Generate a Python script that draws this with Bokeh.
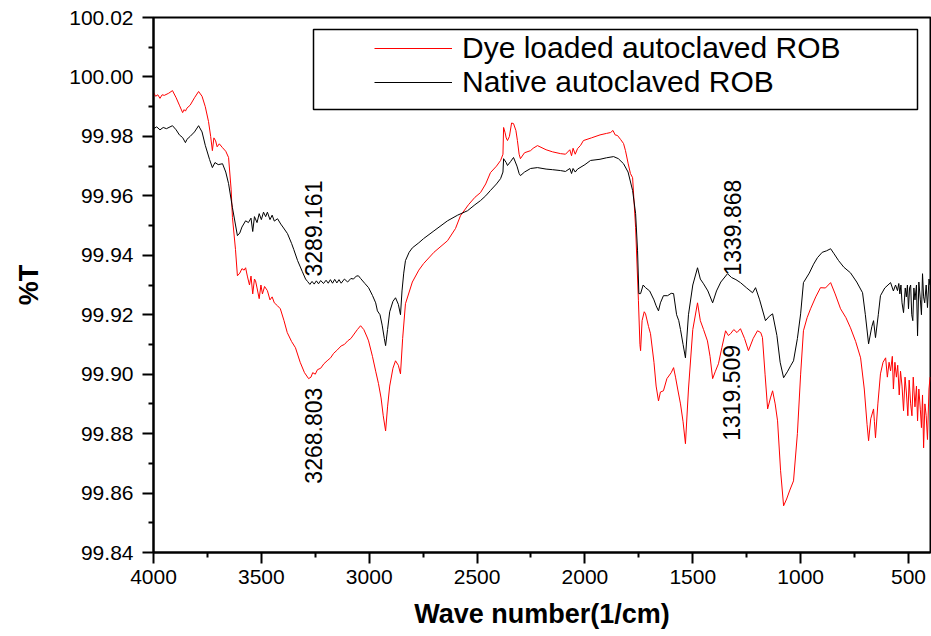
from math import pi
from bokeh.plotting import figure
from bokeh.models import (Range1d, FixedTicker, PrintfTickFormatter, Legend,
                          LegendItem, Label, BoxAnnotation, ColumnDataSource)
from bokeh.embed import file_html
from bokeh.resources import INLINE

# ---------------- data ----------------
dye_points = [
    (4000, 99.9948), (3990, 99.9935), (3980, 99.9940), (3970, 99.9928), (3960, 99.9940),
    (3950, 99.9938), (3930, 99.9945), (3912, 99.9954), (3895, 99.9930), (3880, 99.9905),
    (3865, 99.9880), (3858, 99.9890), (3852, 99.9885), (3845, 99.9895), (3830, 99.9905),
    (3810, 99.9930), (3791, 99.9951), (3775, 99.9935), (3760, 99.9900), (3745, 99.9850),
    (3735, 99.9800), (3727, 99.9752), (3720, 99.9795), (3712, 99.9785), (3705, 99.9765),
    (3695, 99.9775), (3680, 99.9762), (3665, 99.9750), (3652, 99.9729), (3640, 99.9620),
    (3634, 99.9527), (3620, 99.9420), (3611, 99.9331), (3600, 99.9340), (3590, 99.9355),
    (3580, 99.9350), (3573, 99.9358), (3565, 99.9330), (3555, 99.9300), (3548, 99.9330),
    (3540, 99.9270), (3532, 99.9320), (3527, 99.9314), (3520, 99.9290), (3510, 99.9254),
    (3502, 99.9300), (3495, 99.9270), (3485, 99.9295), (3472, 99.9281), (3460, 99.9250),
    (3450, 99.9260), (3440, 99.9240), (3425, 99.9230), (3412, 99.9220), (3395, 99.9180),
    (3380, 99.9140), (3360, 99.9110), (3342, 99.9089), (3320, 99.9040), (3300, 99.9005),
    (3281, 99.8985), (3270, 99.8990), (3262, 99.9005), (3250, 99.9000), (3240, 99.9015),
    (3225, 99.9020), (3210, 99.9035), (3195, 99.9045), (3179, 99.9055), (3165, 99.9070),
    (3150, 99.9080), (3130, 99.9095), (3115, 99.9100), (3100, 99.9112), (3085, 99.9120),
    (3070, 99.9135), (3055, 99.9150), (3040, 99.9163), (3025, 99.9150), (3010, 99.9125),
    (3003, 99.9112), (2985, 99.9060), (2970, 99.9010), (2957, 99.8968), (2945, 99.8920),
    (2935, 99.8860), (2924, 99.8809), (2915, 99.8890), (2905, 99.8960), (2890, 99.9020),
    (2878, 99.9045), (2865, 99.9030), (2855, 99.9001), (2845, 99.9120), (2832, 99.9237),
    (2800, 99.9310), (2770, 99.9350), (2748, 99.9372), (2700, 99.9410), (2637, 99.9449),
    (2600, 99.9490), (2577, 99.9533), (2540, 99.9570), (2510, 99.9595), (2484, 99.9611),
    (2460, 99.9640), (2438, 99.9678), (2410, 99.9700), (2391, 99.9719), (2380, 99.9740),
    (2377, 99.9830), (2370, 99.9812), (2365, 99.9795), (2359, 99.9786), (2350, 99.9800),
    (2340, 99.9845), (2331, 99.9843), (2320, 99.9820), (2313, 99.9786), (2305, 99.9740),
    (2299, 99.9725), (2280, 99.9745), (2252, 99.9752), (2240, 99.9760), (2220, 99.9769),
    (2180, 99.9755), (2150, 99.9748), (2113, 99.9742), (2090, 99.9740), (2070, 99.9755),
    (2062, 99.9735), (2055, 99.9760), (2045, 99.9740), (2034, 99.9759), (2020, 99.9770),
    (2007, 99.9786), (1970, 99.9795), (1930, 99.9805), (1900, 99.9810), (1881, 99.9813),
    (1870, 99.9820), (1860, 99.9805), (1849, 99.9803), (1835, 99.9790), (1821, 99.9776),
    (1812, 99.9752), (1800, 99.9710), (1789, 99.9675), (1779, 99.9661), (1765, 99.9493),
    (1752, 99.9247), (1745, 99.9100), (1742, 99.9079), (1735, 99.9180), (1725, 99.9210),
    (1719, 99.9203), (1705, 99.9160), (1696, 99.9136), (1680, 99.9040), (1670, 99.8960),
    (1659, 99.8910), (1650, 99.8940), (1636, 99.8944), (1620, 99.8985), (1600, 99.9005),
    (1589, 99.9022), (1580, 99.8990), (1570, 99.8950), (1557, 99.8900), (1545, 99.8840),
    (1534, 99.8766), (1520, 99.8950), (1500, 99.9150), (1478, 99.9240), (1465, 99.9180),
    (1450, 99.9150), (1432, 99.9112), (1420, 99.9060), (1408, 99.8985), (1395, 99.9010),
    (1381, 99.9035), (1365, 99.9090), (1348, 99.9146), (1335, 99.9130), (1325, 99.9136),
    (1310, 99.9150), (1295, 99.9140), (1279, 99.9153), (1260, 99.9120), (1242, 99.9079),
    (1220, 99.9120), (1200, 99.9146), (1185, 99.9140), (1177, 99.9123), (1165, 99.9000),
    (1153, 99.8883), (1140, 99.8920), (1130, 99.8944), (1118, 99.8900), (1107, 99.8843),
    (1093, 99.8675), (1079, 99.8557), (1065, 99.8580), (1050, 99.8610), (1033, 99.8641),
    (1015, 99.8800), (1000, 99.9000), (987, 99.9146), (970, 99.9190), (954, 99.9220),
    (930, 99.9260), (908, 99.9291), (885, 99.9290), (861, 99.9308), (840, 99.9270),
    (815, 99.9220), (790, 99.9190), (769, 99.9156), (745, 99.9110), (722, 99.9055),
    (705, 99.8950), (692, 99.8830), (685, 99.8776), (675, 99.8850), (662, 99.8883),
    (658, 99.8840), (653, 99.8786), (642, 99.8900), (630, 99.9001), (618, 99.9040),
    (606, 99.9055), (598, 99.8990), (590, 99.9040), (583, 99.9011), (575, 99.9060),
    (570, 99.8950), (563, 99.9040), (556, 99.8990), (550, 99.9030), (543, 99.8930),
    (537, 99.9010), (530, 99.8960), (523, 99.8877), (516, 99.8990), (510, 99.8940),
    (503, 99.8860), (497, 99.8980), (490, 99.8900), (484, 99.8860), (478, 99.8990),
    (470, 99.8890), (463, 99.8960), (458, 99.8843), (452, 99.8950), (445, 99.8880),
    (440, 99.8820), (435, 99.8930), (430, 99.8752), (424, 99.8900), (418, 99.8860),
    (412, 99.8780), (405, 99.8950), (400, 99.8990),
]

native_points = [
    (4000, 99.9826), (3985, 99.9832), (3970, 99.9822), (3955, 99.9830), (3940, 99.9826),
    (3912, 99.9836), (3895, 99.9822), (3880, 99.9805), (3865, 99.9796), (3852, 99.9779),
    (3845, 99.9790), (3830, 99.9800), (3810, 99.9815), (3791, 99.9836), (3775, 99.9815),
    (3760, 99.9770), (3740, 99.9722), (3727, 99.9695), (3715, 99.9712), (3700, 99.9705),
    (3680, 99.9708), (3665, 99.9680), (3652, 99.9641), (3634, 99.9560), (3611, 99.9466),
    (3600, 99.9475), (3590, 99.9495), (3573, 99.9516), (3560, 99.9510), (3548, 99.9525),
    (3540, 99.9480), (3532, 99.9530), (3520, 99.9510), (3510, 99.9540), (3500, 99.9520),
    (3490, 99.9545), (3480, 99.9530), (3472, 99.9545), (3460, 99.9520), (3450, 99.9535),
    (3440, 99.9515), (3425, 99.9523), (3410, 99.9505), (3400, 99.9495), (3379, 99.9473),
    (3360, 99.9440), (3350, 99.9420), (3332, 99.9382), (3310, 99.9345), (3295, 99.9320),
    (3286, 99.9312), (3275, 99.9302), (3265, 99.9312), (3255, 99.9303), (3245, 99.9314),
    (3235, 99.9304), (3225, 99.9315), (3212, 99.9305), (3200, 99.9316), (3190, 99.9306),
    (3180, 99.9318), (3170, 99.9306), (3160, 99.9319), (3150, 99.9307), (3140, 99.9318),
    (3130, 99.9306), (3115, 99.9320), (3100, 99.9310), (3085, 99.9322), (3073, 99.9320),
    (3060, 99.9330), (3050, 99.9331), (3040, 99.9322), (3020, 99.9305), (3003, 99.9291),
    (2985, 99.9265), (2970, 99.9240), (2962, 99.9213), (2950, 99.9200), (2940, 99.9165),
    (2930, 99.9120), (2924, 99.9096), (2915, 99.9150), (2905, 99.9210), (2890, 99.9245),
    (2878, 99.9257), (2865, 99.9235), (2855, 99.9200), (2848, 99.9280), (2840, 99.9340),
    (2832, 99.9382), (2815, 99.9410), (2800, 99.9425), (2770, 99.9442), (2748, 99.9456),
    (2700, 99.9482), (2637, 99.9516), (2590, 99.9535), (2544, 99.9550), (2510, 99.9570),
    (2484, 99.9584), (2460, 99.9600), (2438, 99.9618), (2410, 99.9640), (2391, 99.9658),
    (2380, 99.9680), (2377, 99.9725), (2365, 99.9712), (2359, 99.9702), (2345, 99.9715),
    (2331, 99.9729), (2315, 99.9700), (2305, 99.9675), (2299, 99.9668), (2280, 99.9680),
    (2252, 99.9692), (2220, 99.9695), (2180, 99.9690), (2150, 99.9688), (2113, 99.9685),
    (2090, 99.9682), (2070, 99.9692), (2062, 99.9675), (2055, 99.9692), (2045, 99.9680),
    (2034, 99.9690), (2000, 99.9705), (1974, 99.9719), (1930, 99.9723), (1900, 99.9728),
    (1867, 99.9732), (1845, 99.9725), (1821, 99.9708), (1800, 99.9680), (1779, 99.9618),
    (1765, 99.9540), (1756, 99.9415), (1750, 99.9271), (1742, 99.9271), (1730, 99.9300),
    (1719, 99.9291), (1700, 99.9280), (1680, 99.9250), (1670, 99.9230), (1659, 99.9213),
    (1650, 99.9240), (1636, 99.9264), (1617, 99.9264), (1600, 99.9272), (1589, 99.9271),
    (1575, 99.9200), (1565, 99.9180), (1557, 99.9150), (1545, 99.9100), (1534, 99.9055),
    (1520, 99.9200), (1500, 99.9300), (1478, 99.9358), (1465, 99.9320), (1450, 99.9304),
    (1430, 99.9280), (1408, 99.9240), (1390, 99.9280), (1370, 99.9310), (1339, 99.9338),
    (1320, 99.9325), (1300, 99.9318), (1279, 99.9308), (1250, 99.9290), (1223, 99.9274),
    (1209, 99.9291), (1190, 99.9250), (1163, 99.9180), (1145, 99.9195), (1130, 99.9203),
    (1110, 99.9130), (1095, 99.9040), (1079, 99.8988), (1060, 99.9010), (1045, 99.9030),
    (1033, 99.9045), (1015, 99.9120), (1000, 99.9203), (987, 99.9308), (960, 99.9340),
    (940, 99.9370), (922, 99.9392), (900, 99.9410), (880, 99.9415), (861, 99.9422),
    (845, 99.9405), (824, 99.9382), (800, 99.9360), (769, 99.9341), (740, 99.9310),
    (713, 99.9274), (700, 99.9200), (685, 99.9102), (670, 99.9160), (662, 99.9180),
    (653, 99.9123), (640, 99.9200), (630, 99.9264), (610, 99.9290), (595, 99.9300),
    (583, 99.9308), (570, 99.9280), (560, 99.9300), (551, 99.9281), (545, 99.9305),
    (540, 99.9270), (535, 99.9300), (530, 99.9240), (523, 99.9207), (515, 99.9290),
    (510, 99.9260), (505, 99.9300), (500, 99.9220), (495, 99.9290), (490, 99.9300),
    (485, 99.9200), (480, 99.9180), (475, 99.9290), (470, 99.9250), (463, 99.9300),
    (458, 99.9129), (452, 99.9310), (445, 99.9250), (440, 99.9200), (435, 99.9338),
    (430, 99.9260), (425, 99.9240), (418, 99.9300), (412, 99.9224), (405, 99.9320),
    (400, 99.9300),
]

series_labels = ["Dye loaded autoclaved ROB", "Native autoclaved ROB"]
series_colors = ["#ff0000", "#000000"]

x_major = [4000, 3500, 3000, 2500, 2000, 1500, 1000, 500]
x_minor = [3750, 3250, 2750, 2250, 1750, 1250, 750]
y_major = [99.84, 99.86, 99.88, 99.90, 99.92, 99.94, 99.96, 99.98, 100.00, 100.02]
y_minor = [99.85, 99.87, 99.89, 99.91, 99.93, 99.95, 99.97, 99.99, 100.01]

peak_texts = ["3289.161", "3268.803", "1339.868", "1319.509"]
peak_x = [3258, 3258, 1316, 1320]
peak_y = [99.9490, 99.8793, 99.9493, 99.8937]

# ---------------- figure ----------------
FONT = "Liberation Sans"

p = figure(frame_width=777, frame_height=535,
           min_border_left=153, min_border_right=1,
           min_border_top=17, min_border_bottom=84,
           x_range=Range1d(4000, 398), y_range=Range1d(99.84, 100.02),
           output_backend="svg", toolbar_location=None)

p.background_fill_color = "white"
p.border_fill_color = "white"
p.xgrid.visible = False
p.ygrid.visible = False
p.outline_line_color = "black"
p.outline_line_width = 2
p.outline_line_alpha = 1

renderers = []
for pts, col in zip([dye_points, native_points], series_colors):
    src = ColumnDataSource(dict(x=[a for a, b in pts], y=[b for a, b in pts]))
    r = p.line("x", "y", source=src, line_color=col, line_width=1)
    renderers.append(r)

# axes
p.xaxis.ticker = FixedTicker(ticks=x_major, minor_ticks=x_minor)
p.yaxis.ticker = FixedTicker(ticks=y_major, minor_ticks=y_minor)
p.yaxis.formatter = PrintfTickFormatter(format="%.2f")

for ax in (p.xaxis, p.yaxis):
    ax.axis_line_width = 2
    ax.axis_line_color = "black"
    ax.major_tick_line_width = 2
    ax.major_tick_line_color = "black"
    ax.minor_tick_line_width = 2
    ax.minor_tick_line_color = "black"
    ax.major_tick_in = 0
    ax.minor_tick_in = 0
    ax.major_tick_out = 11
    ax.minor_tick_out = 5
    ax.major_label_text_font = FONT
    ax.major_label_text_font_size = "21px"
    ax.major_label_text_color = "black"
    ax.axis_label_text_font = FONT
    ax.axis_label_text_font_style = "bold"
    ax.axis_label_text_font_size = "27px"
    ax.axis_label_text_color = "black"

p.xaxis.axis_label = "Wave number(1/cm)"
p.yaxis.axis_label = "%T"
p.xaxis.major_label_standoff = 6
p.yaxis.major_label_standoff = 9
p.xaxis.axis_label_standoff = 12
p.yaxis.axis_label_standoff = 22

# peak annotations
for t, xx, yy in zip(peak_texts, peak_x, peak_y):
    p.add_layout(Label(x=xx, y=yy, text=t, angle=pi / 2, text_align="center",
                       text_baseline="middle", text_font=FONT,
                       text_font_size="23px", text_color="black"))

# legend
legend = Legend(items=[LegendItem(label=series_labels[i], renderers=[renderers[i]])
                       for i in range(2)],
                location=(221, 453), padding=0, margin=0, spacing=-4,
                glyph_width=78, glyph_height=30, label_height=30, label_standoff=10,
                label_text_font=FONT, label_text_font_size="30px",
                label_text_color="black",
                border_line_alpha=0, background_fill_alpha=0)
p.add_layout(legend, "center")

box = BoxAnnotation(left=313, right=917, top=29, bottom=109,
                    left_units="canvas", right_units="canvas",
                    top_units="canvas", bottom_units="canvas",
                    fill_alpha=0, line_color="black", line_alpha=1, line_width=1.5)
p.add_layout(box)

open("out.html", "w").write(file_html(p, INLINE))
